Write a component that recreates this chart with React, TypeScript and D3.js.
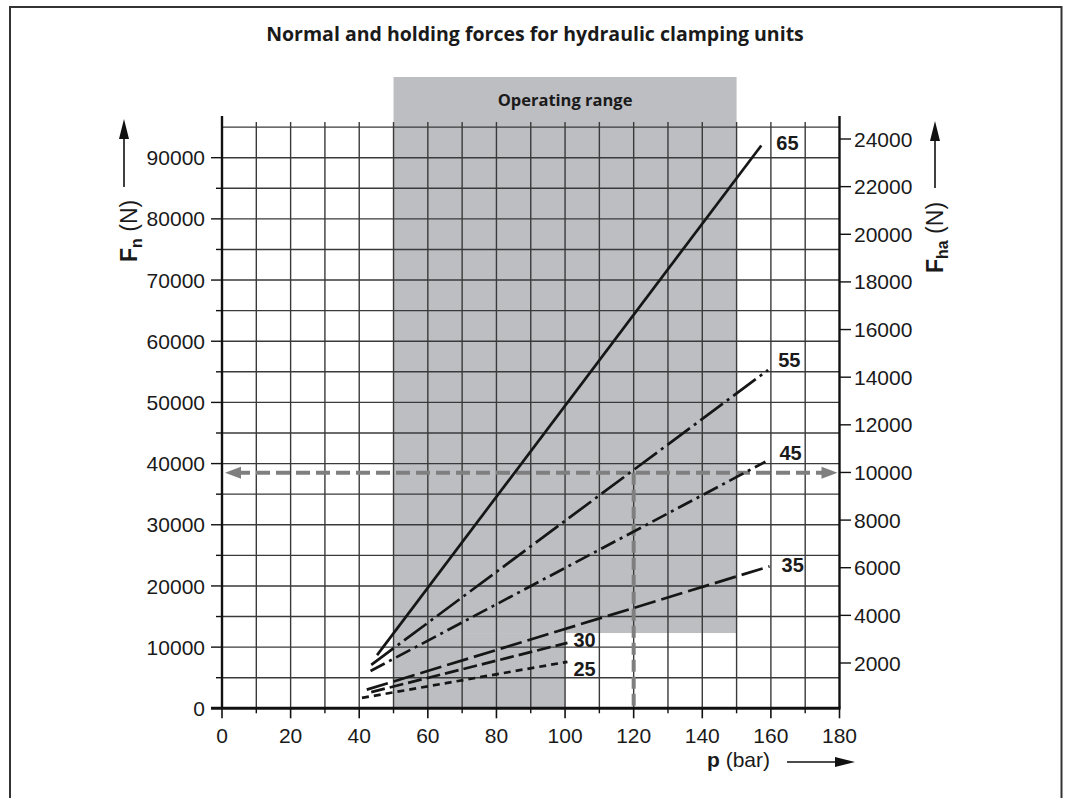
import React from "react";
import * as d3 from "d3";

// ---- data ----
const seriesNames = ["65", "55", "45", "35", "30", "25"];
const pStart = [45.2, 43.5, 43.3, 42.2, 43.5, 40.8];
const pEnd = [157.2, 159.2, 158.4, 159.6, 100.7, 100.7];
const fStart = [8700, 7100, 6100, 3050, 2650, 1700];
const fEnd = [92000, 55300, 40300, 23200, 10700, 7600];

const xTicks = [0, 20, 40, 60, 80, 100, 120, 140, 160, 180];
const yTicks = [0, 10000, 20000, 30000, 40000, 50000, 60000, 70000, 80000, 90000];
const yRightTicks = [2000, 4000, 6000, 8000, 10000, 12000, 14000, 16000, 18000, 20000, 22000, 24000];

const opRangeP = [50, 150];
const opRangeLowP = 100;
const opRangeUpperF = 12300;
const examplePressure = 120;
const exampleForce = 38500;

// ---- styles ----
const dashes: Record<string, string> = {
  "65": "none",
  "55": "28,5,3,5",
  "45": "16,5,3,5",
  "35": "22,6",
  "30": "14,5",
  "25": "7,5",
};
const labelOffset: Record<string, [number, number]> = {
  "65": [15, 5],
  "55": [10, -3],
  "45": [14, -2],
  "35": [12, 6],
  "30": [6, 4],
  "25": [6, 14],
};

const NUM_FONT = "'Liberation Sans', Arial, sans-serif";
const TITLE_FONT = "'Open Sans', 'Noto Sans', sans-serif";

export default function App() {
  const x = d3.scaleLinear().domain([0, 180]).range([222, 839.5]);
  const y = d3.scaleLinear().domain([0, 95000]).range([708.3, 127.1]);
  const yR = d3.scaleLinear().domain([2000, 24000]).range([663, 139]);
  const line = d3
    .line<[number, number]>()
    .x((d) => x(d[0]))
    .y((d) => y(d[1]));

  const vGrid = d3.range(10, 180, 10);
  const hGrid = d3.range(5000, 95001, 5000);
  const minorY = d3.range(5000, 95000, 10000);
  const minorX = d3.range(10, 180, 20);
  const gridColor = "#3a3a3a";
  const gray = "#7f7f7f";

  const yTop = y(95000);
  const axisTop = 116;

  return (
    <svg
      width={1067}
      height={798}
      style={{ position: "absolute", left: 0, top: 0, background: "#fff" }}
    >
      <rect x={0} y={0} width={1067} height={798} fill="#fff" />
      {/* frame */}
      <path d="M10,798 V7 H1061.5 V798" fill="none" stroke="#333" strokeWidth={2} />

      {/* title */}
      <text
        x={535}
        y={41}
        textAnchor="middle"
        fontFamily={TITLE_FONT}
        fontWeight="bold"
        fontSize={19.5}
        fill="#1a1a1a"
      >
        Normal and holding forces for hydraulic clamping units
      </text>

      {/* operating range */}
      <rect
        x={x(opRangeP[0])}
        y={77}
        width={x(opRangeP[1]) - x(opRangeP[0])}
        height={y(opRangeUpperF) - 77}
        fill="#bdbec2"
      />
      <rect
        x={x(opRangeP[0])}
        y={y(opRangeUpperF)}
        width={x(opRangeLowP) - x(opRangeP[0])}
        height={y(0) - y(opRangeUpperF)}
        fill="#bdbec2"
      />
      <text
        x={(x(opRangeP[0]) + x(opRangeP[1])) / 2}
        y={106}
        textAnchor="middle"
        fontFamily={TITLE_FONT}
        fontWeight="bold"
        fontSize={16.5}
        fill="#1a1a1a"
      >
        Operating range
      </text>

      {/* grid */}
      {hGrid.map((v) => (
        <line key={"h" + v} x1={x(0)} x2={x(180)} y1={y(v)} y2={y(v)} stroke={gridColor} strokeWidth={1.4} />
      ))}
      {vGrid.map((v) => (
        <line key={"v" + v} x1={x(v)} x2={x(v)} y1={y(0)} y2={yTop - 5} stroke={gridColor} strokeWidth={1.4} />
      ))}

      {/* axes */}
      <line x1={x(0)} x2={x(0)} y1={axisTop} y2={y(0)} stroke="#111" strokeWidth={2.4} />
      <line x1={x(180)} x2={x(180)} y1={axisTop} y2={y(0)} stroke="#111" strokeWidth={2.4} />
      <line x1={211} x2={x(180) + 1} y1={y(0)} y2={y(0)} stroke="#111" strokeWidth={3} />

      {/* left ticks */}
      {yTicks.map((v) => (
        <g key={"yt" + v}>
          <line x1={211} x2={x(0)} y1={y(v)} y2={y(v)} stroke="#111" strokeWidth={1.4} />
          <text
            x={205}
            y={y(v)}
            dy="0.36em"
            textAnchor="end"
            fontFamily={NUM_FONT}
            fontSize={21}
            fill="#1a1a1a"
          >
            {v}
          </text>
        </g>
      ))}
      {minorY.map((v) => (
        <line key={"ym" + v} x1={216} x2={x(0)} y1={y(v)} y2={y(v)} stroke="#111" strokeWidth={1.4} />
      ))}

      {/* right ticks */}
      {yRightTicks.map((v) => (
        <g key={"yr" + v}>
          <line x1={x(180)} x2={851} y1={yR(v)} y2={yR(v)} stroke="#111" strokeWidth={1.4} />
          <text x={854} y={yR(v)} dy="0.36em" fontFamily={NUM_FONT} fontSize={21} fill="#1a1a1a">
            {v}
          </text>
        </g>
      ))}

      {/* bottom ticks */}
      {xTicks.map((v) => (
        <g key={"xt" + v}>
          <line x1={x(v)} x2={x(v)} y1={y(0)} y2={y(0) + 10} stroke="#111" strokeWidth={1.6} />
          <text x={x(v)} y={743} textAnchor="middle" fontFamily={NUM_FONT} fontSize={21} fill="#1a1a1a">
            {v}
          </text>
        </g>
      ))}
      {minorX.map((v) => (
        <line key={"xm" + v} x1={x(v)} x2={x(v)} y1={y(0)} y2={y(0) + 5} stroke="#111" strokeWidth={1.4} />
      ))}

      {/* example dashed gray arrows */}
      <line
        x1={x(0) + 14}
        x2={x(180) - 14}
        y1={y(exampleForce)}
        y2={y(exampleForce)}
        stroke={gray}
        strokeWidth={4}
        strokeDasharray="14,6"
      />
      <path d={`M${x(0) + 3},${y(exampleForce)} l16,-6 v12 z`} fill={gray} />
      <path d={`M${x(180) - 2},${y(exampleForce)} l-16,-6 v12 z`} fill={gray} />
      <line
        x1={x(examplePressure)}
        x2={x(examplePressure)}
        y1={y(exampleForce)}
        y2={y(0) - 2}
        stroke={gray}
        strokeWidth={4}
        strokeDasharray="12,5"
      />

      {/* force lines */}
      {seriesNames.map((s, i) => {
        const pts: [number, number][] = [
          [pStart[i], fStart[i]],
          [pEnd[i], fEnd[i]],
        ];
        const [dx, dy] = labelOffset[s];
        return (
          <g key={"s" + s}>
            <path
              d={line(pts) || ""}
              fill="none"
              stroke="#161616"
              strokeWidth={2.7}
              strokeDasharray={dashes[s]}
            />
            <text
              x={x(pEnd[i]) + dx}
              y={y(fEnd[i]) + dy}
              fontFamily={NUM_FONT}
              fontWeight="bold"
              fontSize={20}
              fill="#1a1a1a"
            >
              {s}
            </text>
          </g>
        );
      })}

      {/* left axis label + arrow */}
      <line x1={124} x2={124} y1={135} y2={187} stroke="#111" strokeWidth={1.6} />
      <path d="M124,119 l-5,20 h10 z" fill="#111" />
      <text
        transform="translate(137,262) rotate(-90)"
        fontFamily={NUM_FONT}
        fontSize={23}
        fill="#1a1a1a"
      >
        <tspan fontWeight="bold">F</tspan>
        <tspan fontWeight="bold" fontSize={16} dy={5}>n</tspan>
        <tspan dy={-5}> (N)</tspan>
      </text>

      {/* right axis label + arrow */}
      <line x1={935} x2={935} y1={137} y2={188} stroke="#111" strokeWidth={1.6} />
      <path d="M935,121 l-5,20 h10 z" fill="#111" />
      <text
        transform="translate(943,273) rotate(-90)"
        fontFamily={NUM_FONT}
        fontSize={23}
        fill="#1a1a1a"
      >
        <tspan fontWeight="bold">F</tspan>
        <tspan fontWeight="bold" fontSize={16} dy={5}>ha</tspan>
        <tspan dy={-5}> (N)</tspan>
      </text>

      {/* bottom axis label + arrow */}
      <text x={707} y={767} fontFamily={NUM_FONT} fontSize={21} fill="#1a1a1a">
        <tspan fontWeight="bold">p</tspan>
        <tspan> (bar)</tspan>
      </text>
      <line x1={787} x2={838} y1={762} y2={762} stroke="#111" strokeWidth={1.6} />
      <path d="M855,762 l-20,-5 v10 z" fill="#111" />
    </svg>
  );
}
